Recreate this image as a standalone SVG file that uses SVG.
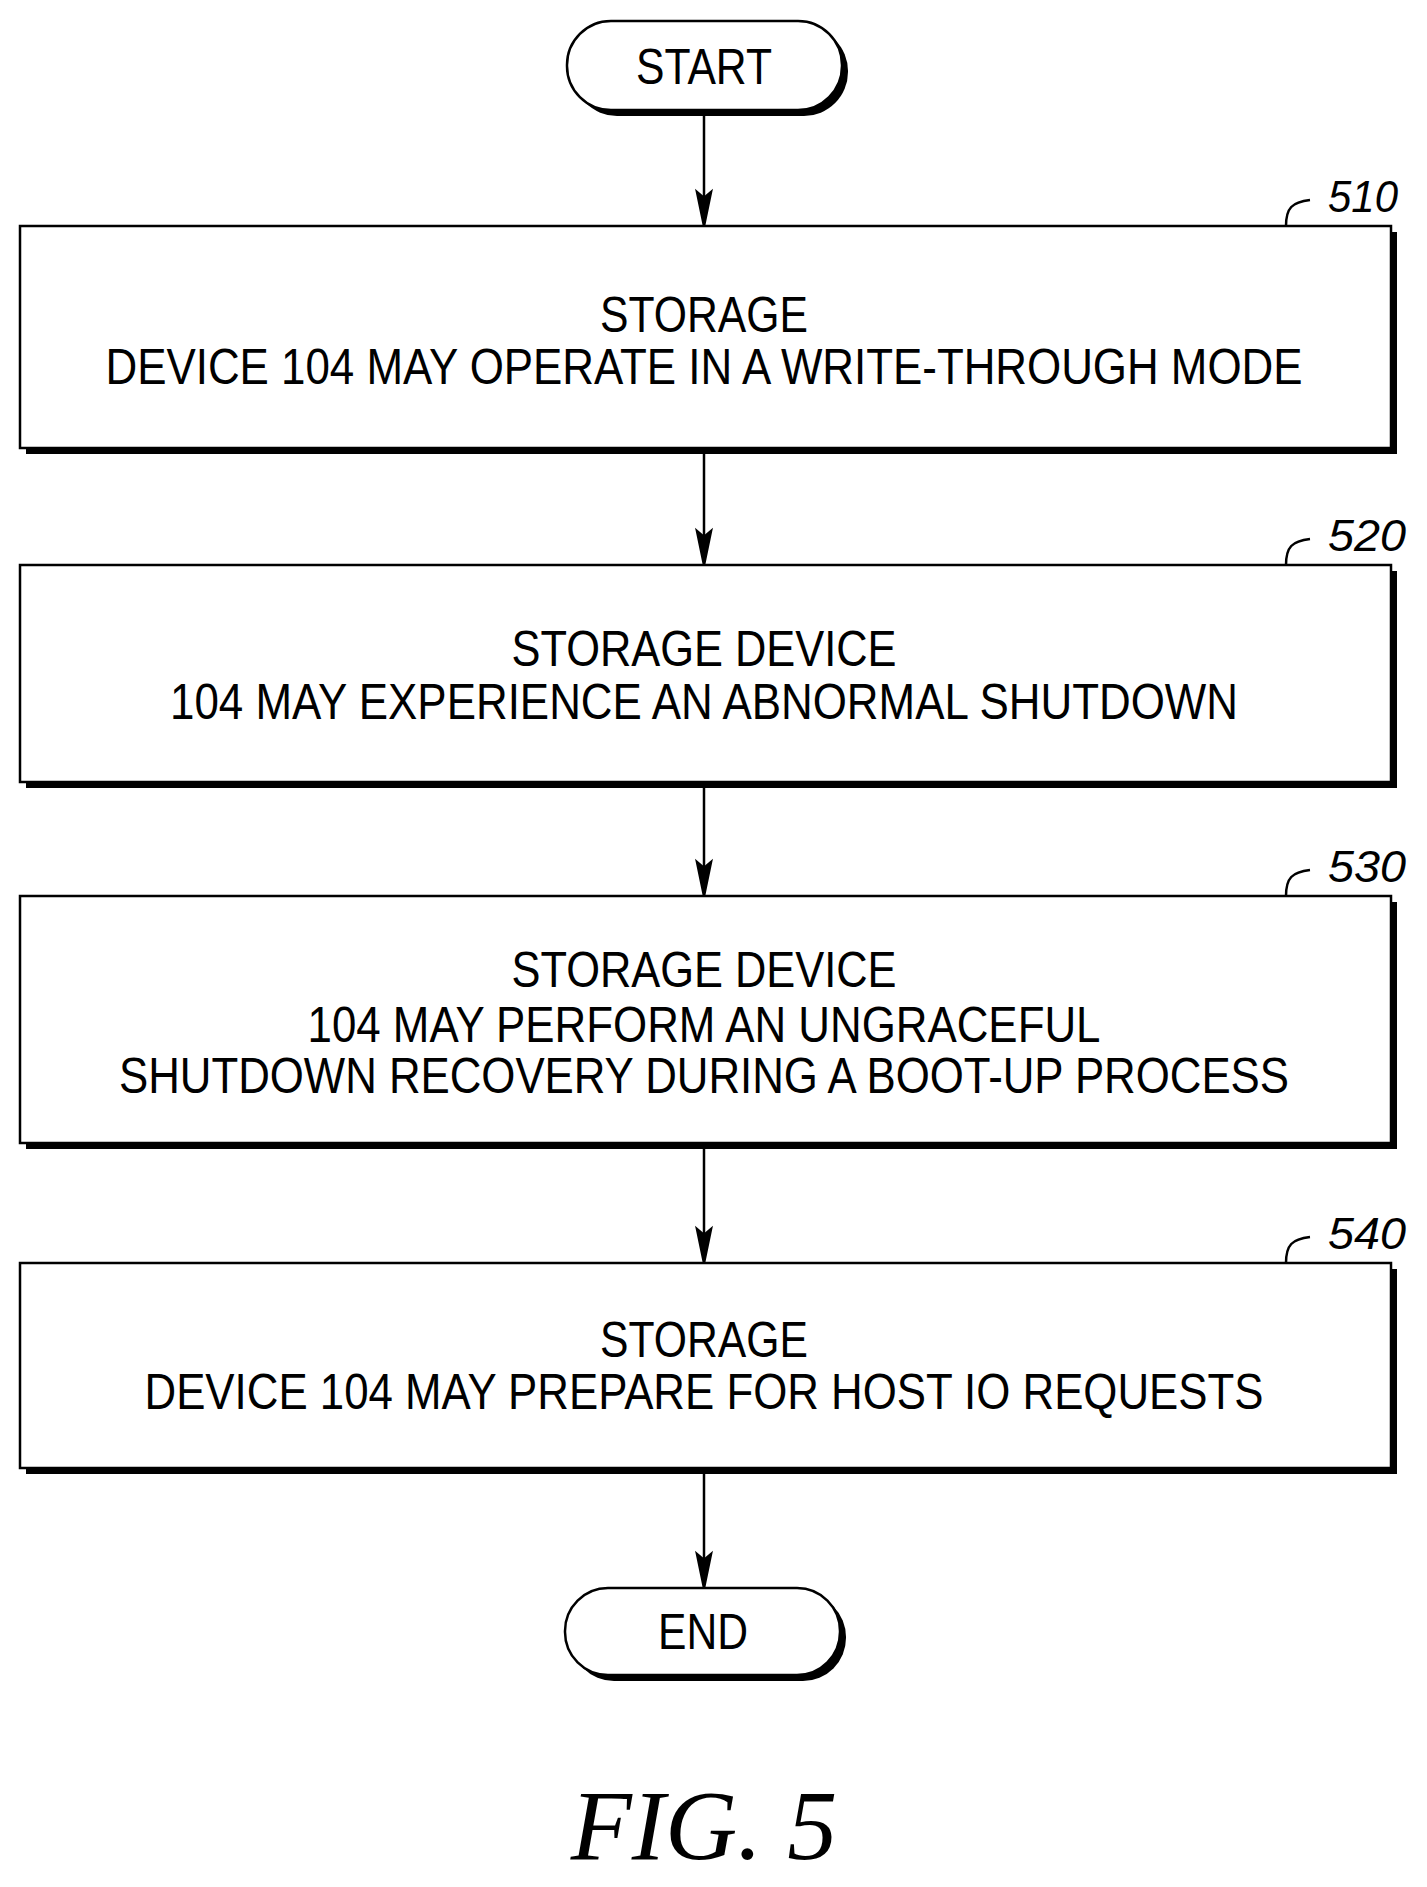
<svg xmlns="http://www.w3.org/2000/svg" width="1427" height="1887" viewBox="0 0 1427 1887">
<style>
.b{fill:#fff;stroke:#000;stroke-width:2.5}
.s{fill:#000}
.t{font-family:"Liberation Sans",Arial,sans-serif;font-size:50px;text-anchor:middle;fill:#000}
.r{font-family:"Liberation Sans",Arial,sans-serif;font-size:44px;font-style:italic;fill:#000}
.c{fill:none;stroke:#000;stroke-width:2.5}
</style>
<defs><path id="ah" d="M-7,-34 L0,0 L7,-34 L0,-28Z" fill="#000"/></defs>
<g id="start"><rect x="573" y="27" width="275" height="89" rx="44" class="s"/><rect x="567" y="21" width="275" height="89" rx="44" class="b"/><text class="t" x="704" y="84" textLength="136" lengthAdjust="spacingAndGlyphs">START</text></g>
<g id="n510"><rect x="26" y="232" width="1371" height="222" class="s"/><rect x="20" y="226" width="1371" height="222" class="b"/>
<text class="t" x="704" y="332" textLength="208" lengthAdjust="spacingAndGlyphs">STORAGE</text>
<text class="t" x="704" y="384" textLength="1197" lengthAdjust="spacingAndGlyphs">DEVICE 104 MAY OPERATE IN A WRITE-THROUGH MODE</text>
<path class="c" d="M1286,226 C1286,208 1292,202 1310,200"/><text class="r" x="1328" y="212" textLength="70" lengthAdjust="spacingAndGlyphs">510</text></g>
<g id="n520"><rect x="26" y="571" width="1371" height="217" class="s"/><rect x="20" y="565" width="1371" height="217" class="b"/>
<text class="t" x="704" y="666" textLength="385" lengthAdjust="spacingAndGlyphs">STORAGE DEVICE</text>
<text class="t" x="704" y="719" textLength="1068" lengthAdjust="spacingAndGlyphs">104 MAY EXPERIENCE AN ABNORMAL SHUTDOWN</text>
<path class="c" d="M1286,565 C1286,547 1292,541 1310,539"/><text class="r" x="1328" y="551" textLength="78" lengthAdjust="spacingAndGlyphs">520</text></g>
<g id="n530"><rect x="26" y="902" width="1371" height="247" class="s"/><rect x="20" y="896" width="1371" height="247" class="b"/>
<text class="t" x="704" y="987" textLength="385" lengthAdjust="spacingAndGlyphs">STORAGE DEVICE</text>
<text class="t" x="704" y="1042" textLength="793" lengthAdjust="spacingAndGlyphs">104 MAY PERFORM AN UNGRACEFUL</text>
<text class="t" x="704" y="1093" textLength="1170" lengthAdjust="spacingAndGlyphs">SHUTDOWN RECOVERY DURING A BOOT-UP PROCESS</text>
<path class="c" d="M1286,896 C1286,878 1292,872 1310,870"/><text class="r" x="1328" y="882" textLength="78" lengthAdjust="spacingAndGlyphs">530</text></g>
<g id="n540"><rect x="26" y="1269" width="1371" height="205" class="s"/><rect x="20" y="1263" width="1371" height="205" class="b"/>
<text class="t" x="704" y="1357" textLength="208" lengthAdjust="spacingAndGlyphs">STORAGE</text>
<text class="t" x="704" y="1409" textLength="1119" lengthAdjust="spacingAndGlyphs">DEVICE 104 MAY PREPARE FOR HOST IO REQUESTS</text>
<path class="c" d="M1286,1263 C1286,1245 1292,1239 1310,1237"/><text class="r" x="1328" y="1249" textLength="78" lengthAdjust="spacingAndGlyphs">540</text></g>
<g id="end"><rect x="571" y="1594" width="275" height="87" rx="43" class="s"/><rect x="565" y="1588" width="275" height="87" rx="43" class="b"/><text class="t" x="703" y="1649" textLength="90" lengthAdjust="spacingAndGlyphs">END</text></g>
<g id="connectors" stroke="#000" stroke-width="2.5">
<line x1="704" y1="116" x2="704" y2="200"/><use href="#ah" x="704" y="226"/>
<line x1="704" y1="454" x2="704" y2="540"/><use href="#ah" x="704" y="565"/>
<line x1="704" y1="788" x2="704" y2="870"/><use href="#ah" x="704" y="896"/>
<line x1="704" y1="1149" x2="704" y2="1238"/><use href="#ah" x="704" y="1263"/>
<line x1="704" y1="1474" x2="704" y2="1562"/><use href="#ah" x="704" y="1588"/>
</g>
<text x="704" y="1859" font-family="'Liberation Serif','Times New Roman',serif" font-style="italic" font-size="100" text-anchor="middle">FIG. 5</text>
</svg>
